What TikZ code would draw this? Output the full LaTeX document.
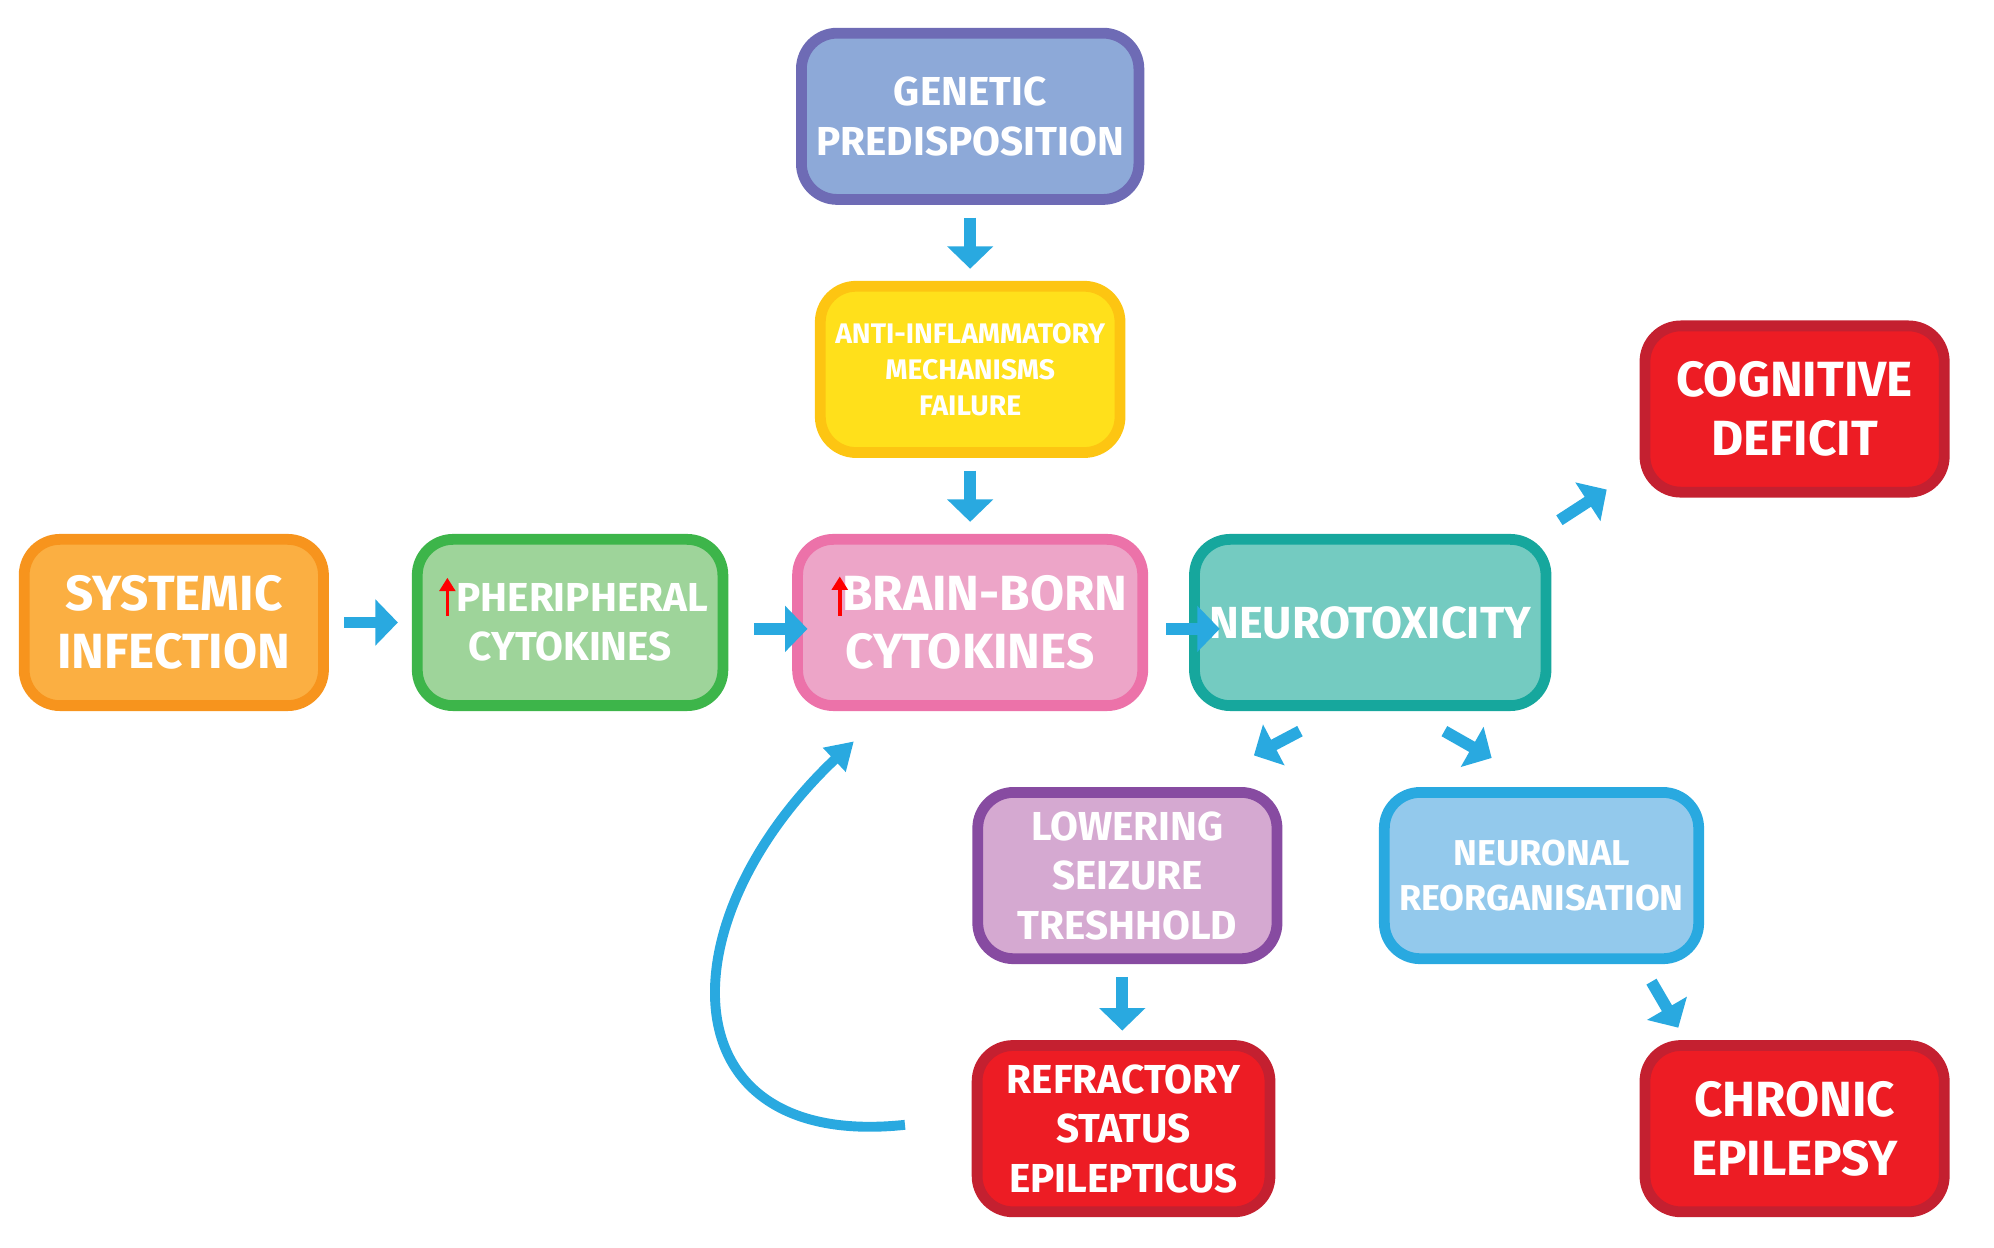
\documentclass[tikz,border=0pt]{standalone}
\usepackage{fontspec}
\setmainfont{Fira Sans}
\usetikzlibrary{arrows.meta}
\definecolor{ablue}{HTML}{29A9E0}
\definecolor{rfill}{HTML}{ED1C24}\definecolor{rdraw}{HTML}{C42030}
\definecolor{gf}{HTML}{8DA9D8}\definecolor{gd}{HTML}{6E6BB5}
\definecolor{af}{HTML}{FFE01B}\definecolor{ad}{HTML}{FDC512}
\definecolor{sf}{HTML}{FBAF42}\definecolor{sd}{HTML}{F7941D}
\definecolor{pf}{HTML}{9ED49A}\definecolor{pd}{HTML}{3DB54A}
\definecolor{bf}{HTML}{EDA5C8}\definecolor{bd}{HTML}{EC72A9}
\definecolor{nf}{HTML}{74CBC1}\definecolor{nd}{HTML}{16A79D}
\definecolor{lf}{HTML}{D5A9D1}\definecolor{ld}{HTML}{874BA1}
\definecolor{of}{HTML}{93C9EC}\definecolor{od}{HTML}{29A9E0}
\tikzset{
 box/.style={rounded corners=0.28cm, line width=2.4pt, minimum width=2.34cm, minimum height=1.3cm, align=center, text=white, font=\bfseries},
 arr/.style={ablue, line width=2.6pt, -{Triangle[length=5pt,width=10pt]}},
 up/.style={red, line width=0.8pt, -{Triangle[length=3pt,width=3.5pt]}}
}
\begin{document}
\begin{tikzpicture}[x=0.01cm,y=-0.01cm]
\useasboundingbox (0,0) rectangle (1560,976);
\node[box,fill=gf,draw=gd,font=\bfseries\fontsize{9}{11}\selectfont] (gen) at (759,91) {GENETIC\\PREDISPOSITION};
\node[box,fill=af,draw=ad,font=\bfseries\fontsize{6.3}{8}\selectfont] (anti) at (759,289) {ANTI-INFLAMMATORY\\MECHANISMS\\FAILURE};
\node[box,fill=sf,draw=sd,font=\bfseries\fontsize{11}{13}\selectfont] (sys) at (136,487) {SYSTEMIC\\INFECTION};
\node[box,fill=pf,draw=pd,font=\bfseries\fontsize{9}{11}\selectfont] (per) at (446,487) {\hspace*{0.6em}PHERIPHERAL\\CYTOKINES};
\node[box,fill=bf,draw=bd,font=\bfseries\fontsize{11}{13}\selectfont] (brain) at (759,487) {\hspace*{0.6em}BRAIN-BORN\\CYTOKINES};
\node[box,fill=nf,draw=nd,font=\bfseries\fontsize{10}{12}\selectfont] (neuro) at (1072,487) {NEUROTOXICITY};
\node[box,fill=rfill,draw=rdraw,font=\bfseries\fontsize{11}{13}\selectfont] (cog) at (1404,320) {COGNITIVE\\DEFICIT};
\node[box,fill=lf,draw=ld,font=\bfseries\fontsize{9}{11}\selectfont] (low) at (882,685) {LOWERING\\SEIZURE\\TRESHHOLD};
\node[box,fill=of,draw=od,font=\bfseries\fontsize{8}{10}\selectfont] (neur) at (1206,685) {NEURONAL\\REORGANISATION};
\node[box,fill=rfill,draw=rdraw,minimum width=2.29cm,font=\bfseries\fontsize{9}{11}\selectfont] (ref) at (879,883) {REFRACTORY\\STATUS\\EPILEPTICUS};
\node[box,fill=rfill,draw=rdraw,font=\bfseries\fontsize{11}{13}\selectfont] (chr) at (1404,883) {CHRONIC\\EPILEPSY};
% red up arrows
\coordinate (u1a) at (350,482); \coordinate (u1b) at (350,452);
\coordinate (u2a) at (657,482); \coordinate (u2b) at (657,451);
\draw[up] (u1a) -- (u1b);
\draw[up] (u2a) -- (u2b);
% connectors
\draw[arr] (gen.south) ++(0,10) coordinate (g1) (g1) -- ++(0,40);
\draw[arr] (anti.south) ++(0,10) coordinate (a1) (a1) -- ++(0,40);
\draw[arr] (sys.east) ++(12,0) coordinate (s1) (s1) -- ++(42,0);
\draw[arr] (per.east) ++(20,5) coordinate (p1) (p1) -- ++(42,0);
\draw[arr] (brain.east) ++(14,5) coordinate (b1) (b1) -- ++(42,0);
\coordinate (c1) at (1220,407); \coordinate (c2) at (1257,383);
\draw[arr] (c1) -- (c2);
\coordinate (l1) at (1017,572); \coordinate (l2) at (981,591);
\draw[arr] (l1) -- (l2);
\coordinate (n1) at (1130,572); \coordinate (n2) at (1167,593);
\draw[arr] (n1) -- (n2);
\draw[arr] (low.south) ++(-4,10) coordinate (lo1) (lo1) -- ++(0,42);
\coordinate (r1) at (1292,768); \coordinate (r2) at (1313,804);
\draw[arr] (r1) -- (r2);
\coordinate (f1) at (708,880); \coordinate (f2) at (668,580);
\draw[ablue,line width=2.2pt,-{Triangle[length=6pt,width=7pt]}] (f1) .. controls (520,900) and (520,720) .. (f2);
\end{tikzpicture}
\end{document}
